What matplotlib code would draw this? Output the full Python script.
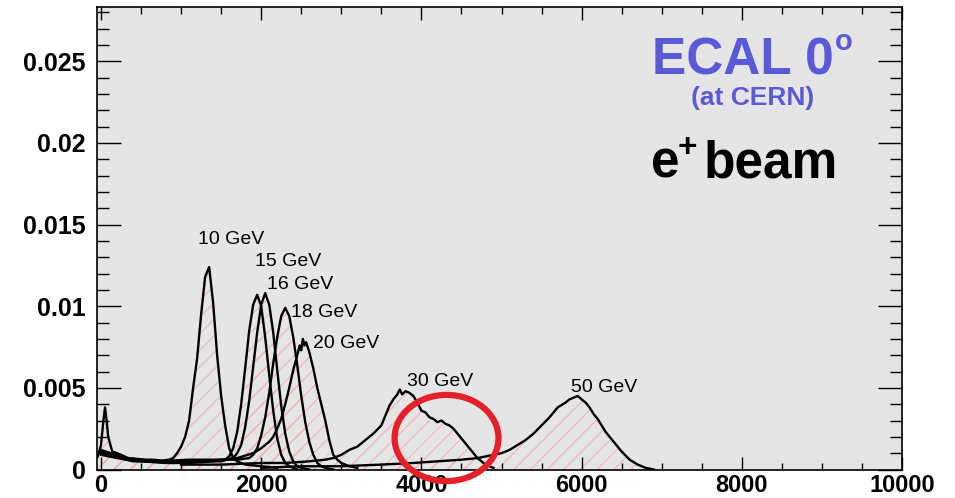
import numpy as np
import matplotlib.pyplot as plt
from matplotlib.ticker import MultipleLocator, FuncFormatter
from matplotlib.patches import Ellipse

plt.rcParams['font.family'] = ['Liberation Sans', 'DejaVu Sans']
plt.rcParams['hatch.linewidth'] = 0.7
plt.rcParams['hatch.color'] = '#eeb0b0'

# ADC spectra (channel, fraction of events)
x10 = [-40, 0, 30, 50, 70, 90, 140, 200, 250, 340, 450, 550, 650, 760, 850, 900, 950, 1000,
       1050, 1100, 1150, 1200, 1250, 1300, 1350, 1400, 1450, 1500, 1550, 1600, 1650, 1700,
       1800, 2000, 2200]
y10 = [0.0008, 0.0015, 0.0030, 0.0038, 0.0030, 0.0020, 0.0011, 0.0010, 0.0009, 0.0007,
       0.00065, 0.0006, 0.0006, 0.00055, 0.0006, 0.0007, 0.0010, 0.0014, 0.0020, 0.0030,
       0.0050, 0.0068, 0.0095, 0.0118, 0.0124, 0.0102, 0.0070, 0.0045, 0.0027, 0.0013,
       0.0007, 0.0005, 0.0003, 0.0002, 0.0001]

x15 = [0, 200, 500, 800, 1100, 1400, 1550, 1600, 1650, 1700, 1750, 1800, 1850, 1900, 1950,
       2000, 2050, 2100, 2150, 2200, 2250, 2300, 2350, 2450]
y15 = [0.0009, 0.0007, 0.0005, 0.0004, 0.0004, 0.0005, 0.0006, 0.0008, 0.0013, 0.0023,
       0.0040, 0.0062, 0.0085, 0.0101, 0.0107, 0.0100, 0.0081, 0.0058, 0.0036, 0.0019,
       0.0009, 0.0004, 0.0002, 0.0]

x16 = [0, 300, 600, 900, 1200, 1500, 1650, 1700, 1750, 1800, 1850, 1900, 1950, 2000, 2050,
       2100, 2150, 2200, 2250, 2300, 2350, 2400, 2450, 2500, 2600]
y16 = [0.0011, 0.0006, 0.0005, 0.0004, 0.0005, 0.0005, 0.0007, 0.0010, 0.0015, 0.0026,
       0.0042, 0.0063, 0.0084, 0.0101, 0.0108, 0.0101, 0.0084, 0.0061, 0.0039, 0.0022,
       0.0011, 0.0005, 0.0002, 0.0001, 0.0]

x18 = [0, 400, 800, 1200, 1500, 1700, 1850, 1900, 1950, 2000, 2050, 2100, 2150, 2200, 2250,
       2300, 2350, 2400, 2450, 2500, 2550, 2600, 2650, 2700, 2750, 2800, 2900]
y18 = [0.0010, 0.0005, 0.0005, 0.0005, 0.0006, 0.0006, 0.0007, 0.0009, 0.0013, 0.0021,
       0.0032, 0.0047, 0.0065, 0.0081, 0.0094, 0.0099, 0.0094, 0.0081, 0.0064, 0.0045,
       0.0029, 0.0017, 0.0009, 0.0004, 0.0002, 0.0001, 0.0]

x20 = [0, 300, 700, 1100, 1500, 1700, 1900, 2000, 2100, 2150, 2200, 2250, 2300, 2350, 2400,
       2450, 2480, 2500, 2520, 2540, 2560, 2600, 2650, 2700, 2750, 2800, 2850, 2900, 2950,
       3000, 3100, 3200]
y20 = [0.0012, 0.0007, 0.0005, 0.0006, 0.0006, 0.0007, 0.0010, 0.0013, 0.0017, 0.0020,
       0.0025, 0.0031, 0.0040, 0.0050, 0.0061, 0.0070, 0.0076, 0.0073, 0.0080, 0.0076,
       0.0078, 0.0072, 0.0062, 0.0050, 0.0040, 0.0030, 0.0018, 0.0009, 0.0006, 0.0004,
       0.0002, 0.0001]

x30 = [1000, 1500, 2000, 2300, 2600, 2800, 2900, 3000, 3100, 3200, 3300, 3400, 3500, 3550,
       3600, 3650, 3700, 3730, 3760, 3800, 3850, 3900, 3950, 4000, 4050, 4100, 4150, 4200,
       4250, 4300, 4350, 4400, 4450, 4500, 4550, 4600, 4650, 4700, 4750, 4800, 4900]
y30 = [0.0003, 0.0003, 0.0004, 0.0004, 0.0005, 0.0006, 0.0007, 0.0009, 0.0012, 0.0014,
       0.0018, 0.0022, 0.0027, 0.0033, 0.0039, 0.0043, 0.0046, 0.0049, 0.0046, 0.0048,
       0.0047, 0.0045, 0.0041, 0.0036, 0.0035, 0.0032, 0.0031, 0.0029, 0.0030, 0.0028,
       0.0027, 0.0025, 0.0022, 0.0019, 0.0016, 0.0013, 0.0010, 0.0007, 0.0005, 0.0003,
       0.0001]

x50 = [2000, 2500, 3000, 3500, 3900, 4200, 4500, 4700, 4800, 4900, 5000, 5100, 5200, 5300,
       5400, 5500, 5600, 5700, 5800, 5850, 5900, 5950, 6000, 6050, 6100, 6150, 6200, 6300,
       6400, 6500, 6600, 6700, 6800, 6900]
y50 = [0.0001, 0.0002, 0.0002, 0.0003, 0.0004, 0.0005, 0.0006, 0.0007, 0.0008, 0.0009,
       0.0010, 0.0012, 0.0015, 0.0018, 0.0022, 0.0027, 0.0032, 0.0038, 0.0041, 0.0043,
       0.0044, 0.0045, 0.0043, 0.0041, 0.0038, 0.0034, 0.0031, 0.0023, 0.0017, 0.0011,
       0.0006, 0.0003, 0.0001, 0.0]

curves = [(x10, y10), (x15, y15), (x16, y16), (x18, y18), (x20, y20), (x30, y30), (x50, y50)]

labels = ['10 GeV', '15 GeV', '16 GeV', '18 GeV', '20 GeV', '30 GeV', '50 GeV']
label_x = [1209, 1920, 2070, 2369, 2643, 3815, 5873]
label_y = [0.01383, 0.01248, 0.01107, 0.00936, 0.00745, 0.00512, 0.00475]

fig = plt.figure(figsize=(9.55, 4.98), dpi=100)
ax = fig.add_axes([97 / 955, 28.5 / 498, 805 / 955, 462 / 498])
ax.set_facecolor('#e5e5e5')

for xs, ys in curves:
    ax.fill_between(xs, ys, 0, facecolor='none', edgecolor='#eeb0b0', hatch='//',
                    linewidth=0, zorder=1)
for xs, ys in curves:
    ax.plot(xs, ys, color='black', lw=1.7, zorder=3)

for t, lx, ly in zip(labels, label_x, label_y):
    ax.text(lx, ly, t, fontsize=14, ha='left', va='baseline', zorder=4)

ax.set_xlim(-50, 10000)
ax.set_ylim(0, 0.0283)

ax.xaxis.set_major_locator(MultipleLocator(2000))
ax.xaxis.set_minor_locator(MultipleLocator(500))
ax.yaxis.set_major_locator(MultipleLocator(0.005))
ax.yaxis.set_minor_locator(MultipleLocator(0.001))
ax.yaxis.set_major_formatter(FuncFormatter(lambda v, p: f'{v:g}'))

ax.tick_params(which='both', direction='in', top=True, right=True, width=1.0,
               color='black')
ax.xaxis.set_tick_params(which='major', length=9.5, pad=3, labelsize=17)
ax.xaxis.set_tick_params(which='minor', length=5)
ax.yaxis.set_tick_params(which='major', length=17, pad=8, labelsize=18)
ax.yaxis.set_tick_params(which='minor', length=8.5)
for lab in ax.get_xticklabels() + ax.get_yticklabels():
    lab.set_fontweight('bold')
for s in ax.spines.values():
    s.set_linewidth(1.2)

# header text
blue = '#5a5ad8'
ax.text(0.689, 0.855, 'ECAL 0', transform=ax.transAxes, fontsize=37, fontweight='bold',
        color=blue, ha='left', va='baseline')
ax.text(0.917, 0.908, 'o', transform=ax.transAxes, fontsize=21, fontweight='bold',
        color=blue, ha='left', va='baseline')
ax.text(0.815, 0.788, '(at CERN)', transform=ax.transAxes, fontsize=19, fontweight='bold',
        color=blue, ha='center', va='baseline')
ax.text(0.688, 0.633, 'e', transform=ax.transAxes, fontsize=37, fontweight='bold',
        color='black', ha='left', va='baseline')
ax.text(0.7335, 0.695, '+', transform=ax.transAxes, fontsize=24, fontweight='bold',
        color='black', ha='center', va='center')
ax.text(0.7535, 0.633, 'beam', transform=ax.transAxes, fontsize=37, fontweight='bold',
        color='black', ha='left', va='baseline')

# red circle around the 30 GeV shoulder
ax.add_patch(Ellipse((4314, 0.00193), 1297, 0.00528, fill=False, edgecolor='#e62028',
                     lw=4.5, zorder=6, clip_on=False))

fig.savefig('out.png', dpi=100)
